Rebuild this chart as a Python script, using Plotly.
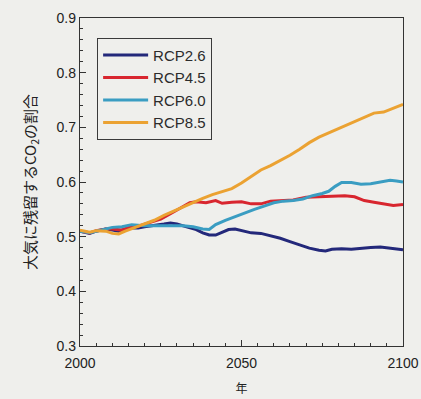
import plotly.graph_objects as go

# ---- data ----
yrs_26 = [2000, 2003, 2005, 2008, 2010, 2012, 2015, 2018, 2020, 2023, 2026, 2028, 2030, 2033, 2036, 2038,
          2040, 2042, 2044, 2046, 2048, 2050, 2053, 2056, 2059, 2062, 2065, 2068, 2071, 2074, 2076, 2078,
          2081, 2084, 2087, 2090, 2093, 2096, 2100]
val_26 = [0.510, 0.506, 0.510, 0.514, 0.512, 0.510, 0.516, 0.516, 0.518, 0.520, 0.523, 0.525, 0.523, 0.518,
          0.513, 0.507, 0.503, 0.503, 0.508, 0.513, 0.514, 0.511, 0.507, 0.506, 0.502, 0.497, 0.491, 0.485,
          0.479, 0.475, 0.474, 0.477, 0.478, 0.477, 0.479, 0.480, 0.481, 0.479, 0.476]

yrs_45 = [2000, 2003, 2005, 2008, 2010, 2013, 2015, 2018, 2020, 2023, 2025, 2028, 2031, 2034, 2036, 2039,
          2042, 2044, 2047, 2050, 2053, 2056, 2059, 2062, 2066, 2070, 2074, 2078, 2082, 2085, 2088, 2091,
          2094, 2097, 2100]
val_45 = [0.510, 0.507, 0.511, 0.514, 0.514, 0.512, 0.517, 0.519, 0.523, 0.528, 0.532, 0.542, 0.552, 0.562,
          0.564, 0.562, 0.566, 0.561, 0.563, 0.564, 0.560, 0.560, 0.565, 0.566, 0.567, 0.572, 0.573, 0.573,
          0.575, 0.573, 0.566, 0.563, 0.560, 0.557, 0.559]

yrs_60 = [2000, 2003, 2005, 2008, 2010, 2013, 2016, 2020, 2024, 2028, 2032, 2035, 2038, 2040, 2042, 2045,
          2048, 2051, 2054, 2057, 2060, 2063, 2066, 2069, 2072, 2075, 2077, 2079, 2081, 2084, 2087, 2090,
          2093, 2096, 2098, 2100]
val_60 = [0.510, 0.507, 0.510, 0.515, 0.517, 0.518, 0.522, 0.520, 0.520, 0.519, 0.520, 0.518, 0.514, 0.513,
          0.522, 0.530, 0.537, 0.543, 0.550, 0.556, 0.562, 0.565, 0.566, 0.569, 0.575, 0.579, 0.583, 0.592,
          0.599, 0.599, 0.596, 0.597, 0.600, 0.603, 0.602, 0.600]

yrs_85 = [2000, 2003, 2005, 2008, 2010, 2012, 2014, 2017, 2020, 2023, 2026, 2029, 2032, 2035, 2038, 2041,
          2044, 2047, 2050, 2053, 2056, 2059, 2062, 2065, 2068, 2071, 2074, 2077, 2080, 2083, 2086, 2089,
          2091, 2094, 2097, 2100]
val_85 = [0.512, 0.508, 0.511, 0.510, 0.506, 0.505, 0.510, 0.517, 0.524, 0.530, 0.539, 0.547, 0.555, 0.563,
          0.570, 0.577, 0.582, 0.588, 0.598, 0.610, 0.622, 0.630, 0.639, 0.649, 0.660, 0.672, 0.682, 0.690,
          0.697, 0.705, 0.713, 0.722, 0.726, 0.728, 0.735, 0.742]

series_names = ["RCP2.6", "RCP4.5", "RCP6.0", "RCP8.5"]
colors = ["#23287a", "#d8262f", "#3a9dc2", "#eba232"]
x_ticks = [2000, 2050, 2100]
y_ticks = [0.3, 0.4, 0.5, 0.6, 0.7, 0.8, 0.9]

fig = go.Figure()
for name, xs, ys, c in zip(series_names, [yrs_26, yrs_45, yrs_60, yrs_85],
                           [val_26, val_45, val_60, val_85], colors):
    fig.add_trace(go.Scatter(x=xs, y=ys, mode="lines", name=name,
                             line=dict(color=c, width=3)))

bg = "#efefec"
fig.update_layout(
    width=421, height=399,
    margin=dict(l=80, r=18, t=18, b=53),
    paper_bgcolor=bg, plot_bgcolor=bg,
    font=dict(family="Liberation Sans, Arial, sans-serif", size=14, color="#222"),
    showlegend=True,
    legend=dict(x=0.053, y=0.94, xanchor="left", yanchor="top",
                bgcolor=bg, bordercolor="#3a3a3a", borderwidth=1,
                font=dict(size=15, color="#2b2b2b"), itemwidth=45,
                tracegroupgap=0),
)
fig.update_xaxes(
    range=[2000, 2100], tickvals=x_ticks, ticktext=[str(v) for v in x_ticks],
    ticks="inside", ticklen=6, tickcolor="#333", showgrid=False, zeroline=False,
    showline=True, linecolor="#333", linewidth=1.3, mirror=True,
    ticklabelstandoff=4, automargin=False,
    minor=dict(dtick=5, tick0=2000, ticks="inside", ticklen=3, tickcolor="#333"),
    title=dict(text="年", font=dict(family="Noto Sans CJK JP", size=12), standoff=14),
)
fig.update_yaxes(
    range=[0.3, 0.9], tickvals=y_ticks, ticktext=[f"{v:.1f}" for v in y_ticks],
    ticks="inside", ticklen=6, tickcolor="#333", showgrid=False, zeroline=False,
    showline=True, linecolor="#333", linewidth=1.3, mirror=True, automargin=False,
    minor=dict(dtick=0.02, tick0=0.3, ticks="inside", ticklen=3, tickcolor="#333"),
    title=dict(text="大気に残留するCO<sub>2</sub>の割合",
               font=dict(family="Noto Sans CJK JP", size=15), standoff=16),
)
fig.write_html("out.html")
